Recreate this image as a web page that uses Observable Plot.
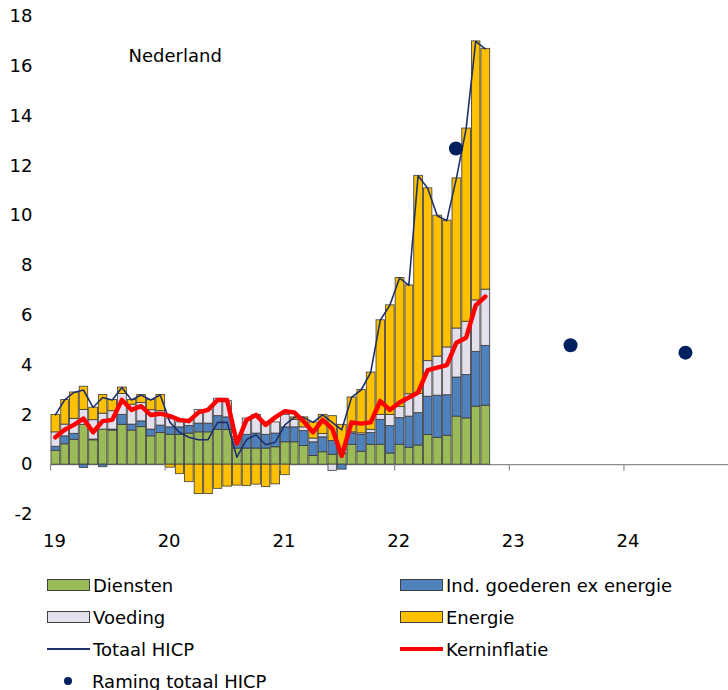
<!DOCTYPE html>
<html><head><meta charset="utf-8">
<script src="https://cdn.jsdelivr.net/npm/d3@7"></script>
<script src="https://cdn.jsdelivr.net/npm/@observablehq/plot@0.6"></script>
<style>
body{margin:0;background:#fff;font-family:"DejaVu Sans",sans-serif;}
#wrap{position:relative;width:728px;height:690px;overflow:hidden;}
#legend{position:absolute;left:0;top:0;width:728px;height:690px;}
.item{position:absolute;display:flex;align-items:center;height:24px;font-size:18px;color:#000;white-space:nowrap;}
.sw{display:inline-block;box-sizing:border-box;width:43px;height:12px;border:1px solid #404040;margin-right:3px;}
.ln{display:inline-block;width:43px;margin-right:3px;}
.dt{display:inline-block;width:43px;margin-right:3px;position:relative;height:10px;}
.dt::after{content:"";position:absolute;left:17px;top:1px;width:8px;height:8px;border-radius:50%;background:#002060;}
</style></head>
<body><div id="wrap"><div id="chart"></div><div id="legend"></div></div>
<script>
// ---- data (Jan 2019 .. Oct 2022, monthly, % contributions) ----
const titel = "Nederland";
const reeksen = ["Diensten", "Ind. goederen ex energie", "Voeding", "Energie"];
const kleuren = ["#9BBB59", "#4F81BD", "#E4DFEC", "#FFC000"];
const diensten = [0.56,0.82,1.0,1.6,0.98,1.41,1.37,1.6,1.37,1.51,1.14,1.27,
  1.2,1.2,1.25,1.3,1.3,1.4,1.4,0.65,0.65,0.65,0.65,0.7,
  0.9,0.9,0.75,0.35,0.5,0.4,0.45,0.8,0.52,0.8,0.8,0.45,
  0.8,0.68,0.77,1.19,1.08,1.16,1.93,1.86,2.33,2.37];
const industrie = [0.16,0.32,0.24,-0.13,0.03,-0.1,0.04,0.4,0.24,0.23,0.27,0.3,
  0.3,0.3,0.3,0.35,0.35,0.55,0.5,0.35,0.55,0.6,0.55,0.55,
  0.6,0.6,0.6,0.55,0.6,0.55,-0.2,0.45,0.67,0.47,1.0,1.1,
  1.07,1.25,1.3,1.54,1.69,1.63,1.57,1.74,2.2,2.4];
const voeding = [0.58,0.47,0.6,0.6,0.78,0.64,0.74,0.84,0.8,0.74,0.78,0.58,
  0.35,0.2,0.25,0.55,0.55,0.7,0.65,0.12,0.65,0.75,0.5,0.45,
  0.5,0.3,0.15,0.15,0.13,-0.25,0.15,0.05,0.07,0.13,0.2,0.45,
  0.45,0.9,0.77,1.43,1.57,1.92,1.97,2.14,2.07,2.26];
const energie = [0.7,0.99,1.06,0.93,0.5,0.75,0.45,0.26,0.19,0.32,0.41,0.65,
  -0.12,-0.38,-0.7,-1.18,-1.18,-0.97,-0.88,-0.84,-0.86,-0.8,-0.9,-0.79,
  -0.42,0.1,0.4,0.65,0.77,1.0,1.0,1.4,1.74,2.3,3.8,4.4,
  5.18,4.37,8.76,6.94,5.66,5.09,6.03,7.76,10.4,9.67];
const totaal = [2.0,2.6,2.9,3.0,2.3,2.7,2.6,3.1,2.6,2.8,2.6,2.8,
  1.7,1.3,1.1,1.0,1.0,1.7,1.7,0.3,1.0,1.2,0.8,0.9,
  1.6,1.9,1.9,1.7,2.0,1.7,1.4,2.7,3.0,3.7,5.8,6.4,
  7.5,7.2,11.6,11.1,10.0,9.8,11.5,13.5,17.0,16.7];
const kern = [1.1,1.4,1.6,1.85,1.3,1.75,1.8,2.6,2.2,2.35,2.0,2.05,
  1.95,1.8,1.75,2.1,2.2,2.6,2.6,0.85,1.8,2.0,1.6,1.9,
  2.15,2.1,1.75,1.3,1.8,1.45,0.35,1.7,1.65,1.7,2.55,2.2,
  2.5,2.7,2.9,3.8,3.9,4.0,4.9,5.1,6.4,6.75];
const ramingDatum = ["2022-07-15", "2023-07-15", "2024-07-15"];
const ramingWaarde = [12.7, 4.8, 4.5];
const jaarTicks = [2019, 2020, 2021, 2022, 2023, 2024];
const yTicks = [-2, 0, 2, 4, 6, 8, 10, 12, 14, 16, 18];

// ---- build tables ----
const maanden = d3.utcMonths(new Date(Date.UTC(2019, 0, 1)), new Date(Date.UTC(2022, 10, 1)));
const series = [diensten, industrie, voeding, energie];
const bars = [];
maanden.forEach((m, i) => series.forEach((s, k) => bars.push({maand: m, reeks: reeksen[k], waarde: s[i]})));
const mid = m => new Date((+m + +d3.utcMonth.offset(m, 1)) / 2);
const lijnen = maanden.map((m, i) => ({x: mid(m), totaal: totaal[i], kern: kern[i]}));
const raming = ramingDatum.map((d, i) => ({x: new Date(d + "T00:00:00Z"), y: ramingWaarde[i]}));
const tickDates = jaarTicks.map(y => new Date(Date.UTC(y, 0, 1)));

const plot = Plot.plot({
  width: 728,
  height: 556,
  marginLeft: 50,
  marginRight: 0,
  marginTop: 16,
  marginBottom: 42,
  style: {fontFamily: "DejaVu Sans, sans-serif", fontSize: "18px", background: "white", color: "#000"},
  x: {type: "utc", domain: [new Date(Date.UTC(2019, 0, 1)), new Date(Date.UTC(2024, 10, 29))],
      ticks: tickDates, tickFormat: d => d3.utcFormat("%y")(d), tickSize: 0, tickPadding: 20, label: null},
  y: {domain: [-2, 18], ticks: yTicks, tickFormat: d => String(d), tickSize: 0, tickPadding: 18, label: null},
  color: {domain: reeksen, range: kleuren},
  marks: [
    Plot.ruleY([0], {stroke: "#8c8c8c", strokeWidth: 1.2}),
    Plot.rectY(bars, {x: "maand", interval: "month", y: "waarde", fill: "reeks",
      stroke: "#3c3c3c", strokeWidth: 0.9, strokeOpacity: 0.9}),
    Plot.ruleX(tickDates, {x: d => d, y1: 0, y2: -0.25, stroke: "#8c8c8c", strokeWidth: 1.2}),
    Plot.line(lijnen, {x: "x", y: "totaal", stroke: "#1F3168", strokeWidth: 1.6}),
    Plot.line(lijnen, {x: "x", y: "kern", stroke: "#ff0000", strokeWidth: 4.5,
      strokeLinejoin: "round", strokeLinecap: "round"}),
    Plot.dot(raming, {x: "x", y: "y", r: 7, fill: "#002060"}),
    Plot.text([titel], {frameAnchor: "top-left", dx: 78, dy: 40, lineAnchor: "middle",
      textAnchor: "start", fontSize: 18, fill: "#000"})
  ]
});
// shift x tick labels slightly right like the reference
plot.querySelectorAll("[aria-label='x-axis tick label'] text, g[aria-label='x-axis'] text").forEach(t => {
  t.setAttribute("dx", "4");
});
document.getElementById("chart").appendChild(plot);

// ---- legend ----
const leg = document.getElementById("legend");
const items = [
  {label: reeksen[0], x: 47, y: 585, kind: "sw", color: kleuren[0]},
  {label: reeksen[1], x: 400, y: 585, kind: "sw", color: kleuren[1]},
  {label: reeksen[2], x: 47, y: 617, kind: "sw", color: kleuren[2]},
  {label: reeksen[3], x: 400, y: 617, kind: "sw", color: kleuren[3]},
  {label: "Totaal HICP", x: 47, y: 649, kind: "ln", color: "#1F3168", w: 2},
  {label: "Kerninflatie", x: 400, y: 649, kind: "ln", color: "#ff0000", w: 4},
  {label: "Raming totaal HICP", x: 47, y: 681, kind: "dt"}
];
items.forEach(it => {
  const d = document.createElement("div");
  d.className = "item";
  d.style.left = it.x + "px";
  d.style.top = (it.y - 12) + "px";
  const s = document.createElement("span");
  s.className = it.kind;
  if (it.kind === "sw") s.style.background = it.color;
  if (it.kind === "ln") { s.style.height = "0px"; s.style.borderTop = it.w + "px solid " + it.color; }
  d.appendChild(s);
  const t = document.createElement("span");
  t.textContent = it.label;
  if (it.kind === "dt") t.style.marginLeft = "-1px";
  d.appendChild(t);
  leg.appendChild(d);
});
</script>
</body></html>
